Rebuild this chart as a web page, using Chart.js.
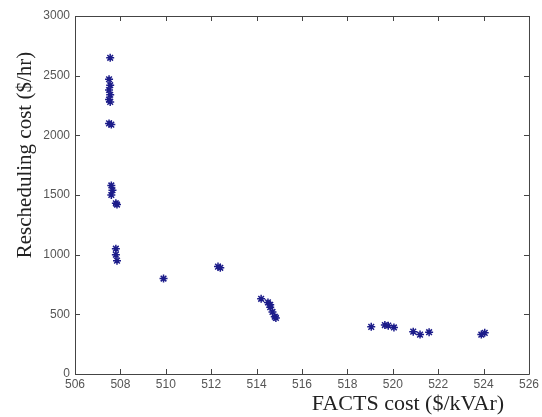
<!DOCTYPE html>
<html>
<head>
<meta charset="utf-8">
<script src="https://cdn.jsdelivr.net/npm/chart.js@4/dist/chart.umd.min.js"></script>
<style>
  html, body { margin: 0; padding: 0; background: #fff; }
  #wrap { width: 542px; height: 417px; }
</style>
</head>
<body>
<div id="wrap"><canvas id="paretoChart" width="542" height="417"></canvas></div>
<script>
// FACTS cost ($/kVAr) vs rescheduling cost ($/hr)
const factsCost = [
  507.55, 507.5, 507.55, 507.5, 507.55, 507.5, 507.55, 507.5, 507.6,
  507.6, 507.65, 507.6, 507.8, 507.85, 507.8, 507.8, 507.85,
  509.9, 512.3, 512.4,
  514.2, 514.5, 514.6, 514.6, 514.7, 514.8, 514.85,
  519.05, 519.65, 519.8, 520.05, 520.9, 521.2, 521.6, 523.9, 524.05
];
const reschedCost = [
  2650, 2470, 2420, 2380, 2340, 2300, 2280, 2100, 2090,
  1580, 1540, 1500, 1430, 1420, 1050, 1000, 950,
  800, 900, 890,
  630, 600, 580, 560, 520, 480, 470,
  395, 410, 405, 390, 355, 330, 350, 330, 345
];
const xTicks = [506, 508, 510, 512, 514, 516, 518, 520, 522, 524, 526];
const yTicks = [0, 500, 1000, 1500, 2000, 2500, 3000];

const xTitle = 'FACTS cost ($/kVAr)';
const yTitle = 'Rescheduling cost ($/hr)';

const points = factsCost.map((x, i) => ({ x: x, y: reschedCost[i] }));

// matlab style box with inward ticks + axis titles
const boxPlugin = {
  id: 'boxPlugin',
  afterDraw(chart) {
    const ctx = chart.ctx;
    const a = chart.chartArea;
    const xs = chart.scales.x, ys = chart.scales.y;
    ctx.save();
    ctx.strokeStyle = '#444';
    ctx.lineWidth = 1;
    ctx.beginPath();
    ctx.rect(a.left + 0.5, a.top + 0.5, a.right - a.left, a.bottom - a.top);
    xTicks.forEach(t => {
      const px = Math.round(xs.getPixelForValue(t)) + 0.5;
      ctx.moveTo(px, a.bottom); ctx.lineTo(px, a.bottom - 5);
      ctx.moveTo(px, a.top); ctx.lineTo(px, a.top + 5);
    });
    yTicks.forEach(t => {
      const py = Math.round(ys.getPixelForValue(t)) + 0.5;
      ctx.moveTo(a.left, py); ctx.lineTo(a.left + 5, py);
      ctx.moveTo(a.right, py); ctx.lineTo(a.right - 5, py);
    });
    ctx.stroke();

    ctx.fillStyle = '#222';
    ctx.textAlign = 'center';
    ctx.textBaseline = 'middle';
    ctx.font = '22px "Liberation Serif", "Times New Roman", serif';
    ctx.fillText(xTitle, 408, 404);
    ctx.font = '21px "Liberation Serif", "Times New Roman", serif';
    ctx.translate(25, 155);
    ctx.rotate(-Math.PI / 2);
    ctx.fillText(yTitle, 0, 0);
    ctx.restore();
  }
};

const ctx = document.getElementById('paretoChart').getContext('2d');
const paretoChart = new Chart(ctx, {
  type: 'scatter',
  data: {
    datasets: [{
      data: points,
      pointStyle: 'star',
      radius: 4,
      borderWidth: 1.5,
      borderColor: '#1c1c8a',
      backgroundColor: '#1c1c8a'
    }]
  },
  options: {
    responsive: false,
    animation: false,
    layout: { padding: { left: 0, top: 16, right: 11, bottom: 0 } },
    plugins: { legend: { display: false }, tooltip: { enabled: false } },
    scales: {
      x: {
        type: 'linear',
        min: 506, max: 526,
        afterBuildTicks: s => { s.ticks = xTicks.map(v => ({ value: v })); },
        afterFit: s => { s.height = 43; },
        grid: { display: false, tickLength: 0 },
        border: { display: false },
        ticks: { padding: 3, color: '#555', font: { family: 'Liberation Sans', size: 12 }, maxRotation: 0,
          callback: v => String(v) }
      },
      y: {
        type: 'linear',
        min: 0, max: 3000,
        afterBuildTicks: s => { s.ticks = yTicks.map(v => ({ value: v })); },
        afterFit: s => { s.width = 75; },
        grid: { display: false, tickLength: 0 },
        border: { display: false },
        ticks: { padding: 5, color: '#555', font: { family: 'Liberation Sans', size: 12 },
          callback: v => String(v) }
      }
    }
  },
  plugins: [boxPlugin]
});
</script>
</body>
</html>
